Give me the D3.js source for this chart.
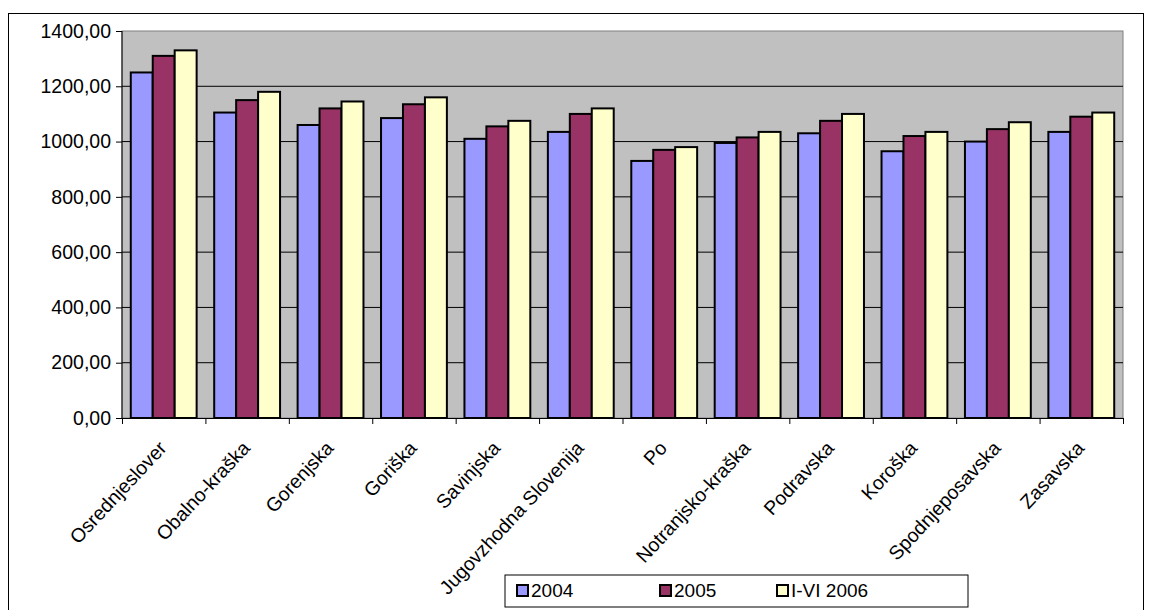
<!DOCTYPE html>
<html><head><meta charset="utf-8">
<script src="https://cdn.jsdelivr.net/npm/d3@7"></script>
<style>body{margin:0;background:#fff}svg{font-family:"Liberation Sans",Arial,sans-serif}</style>
</head><body><svg id="c" width="1152" height="610"></svg>
<script>
const regions = ['Osrednjeslover', 'Obalno-kraška', 'Gorenjska', 'Goriška', 'Savinjska', 'Jugovzhodna Slovenija',
  'Po', 'Notranjsko-kraška', 'Podravska', 'Koroška', 'Spodnjeposavska', 'Zasavska'];
const series = ['2004', '2005', 'I-VI 2006'];
const v2004 = [1250, 1105, 1060, 1085, 1010, 1035, 930, 995, 1030, 965, 1000, 1035];
const v2005 = [1310, 1150, 1120, 1135, 1055, 1100, 970, 1015, 1075, 1020, 1045, 1090];
const v2006 = [1330, 1180, 1145, 1160, 1075, 1120, 980, 1035, 1100, 1035, 1070, 1105];
const yTicks = [0, 200, 400, 600, 800, 1000, 1200, 1400];
const colors = ['#9999ff', '#993366', '#ffffcc'];

const svg = d3.select('#c');
const pLeft = 122, pRight = 1123, pTop = 31, pBottom = 418;

svg.append('rect').attr('x', 8.5).attr('y', 13.5).attr('width', 1135).attr('height', 600)
  .attr('fill', 'none').attr('stroke', '#000');

const x = d3.scaleBand().domain(regions).range([pLeft, pRight]);
const xi = d3.scaleBand().domain(series).range([0, x.bandwidth()]).paddingInner(0).paddingOuter(0.4);
const y = d3.scaleLinear().domain([0, 1400]).range([pBottom, pTop]);

svg.append('rect').attr('x', pLeft).attr('y', pTop).attr('width', pRight - pLeft).attr('height', pBottom - pTop)
  .attr('fill', '#c0c0c0').attr('stroke', '#808080');

svg.selectAll('.grid').data(yTicks.slice(1, -1)).enter().append('line')
  .attr('x1', pLeft).attr('x2', pRight).attr('y1', d => y(d)).attr('y2', d => y(d)).attr('stroke', '#000');

const data = [v2004, v2005, v2006];
regions.forEach((r, i) => {
  series.forEach((s, j) => {
    svg.append('rect').attr('x', x(r) + xi(s)).attr('y', y(data[j][i]))
      .attr('width', xi.bandwidth()).attr('height', pBottom - y(data[j][i]))
      .attr('fill', colors[j]).attr('stroke', '#000').attr('stroke-width', 2);
  });
});

const ya = svg.append('g').attr('transform', `translate(${pLeft},0)`)
  .call(d3.axisLeft(y).tickValues(yTicks).tickSize(6).tickPadding(5).tickFormat(d => d3.format('.2f')(d).replace('.', ',')))
  .attr('font-family', null);
ya.selectAll('text').attr('fill', '#000').style('font-size', '19.5px');
ya.select('.domain').remove();
ya.append('line').attr('y1', pTop).attr('y2', pBottom).attr('stroke', '#000');

const xa = svg.append('g').attr('transform', `translate(0,${pBottom})`)
  .call(d3.axisBottom(d3.scaleLinear().domain([0, 12]).range([pLeft, pRight])).ticks(12).tickSize(6).tickFormat(''));
xa.select('.domain').attr('stroke', '#000');

svg.selectAll('.lab').data(regions).enter().append('text')
  .attr('transform', d => `translate(${x(d) + x.bandwidth() / 2 + 4},${pBottom + 31}) rotate(-47)`)
  .attr('text-anchor', 'end').style('font-size', '19.5px').text(d => d);

const lg = svg.append('g').attr('transform', 'translate(505,575)');
lg.append('rect').attr('width', 463).attr('height', 32).attr('fill', '#fff').attr('stroke', '#000');
series.forEach((s, j) => {
  const g = lg.append('g').attr('transform', `translate(${[12, 155, 272][j]},10)`);
  g.append('rect').attr('width', 11).attr('height', 11).attr('fill', colors[j]).attr('stroke', '#000').attr('stroke-width', 2);
  g.append('text').attr('x', 14).attr('y', 12).style('font-size', '19px').text(s);
});
</script></body></html>
